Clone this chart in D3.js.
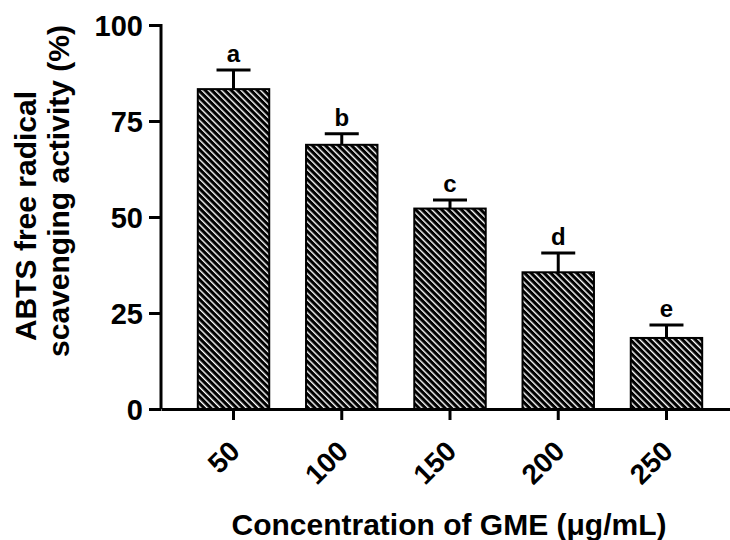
<!DOCTYPE html>
<html>
<head>
<meta charset="utf-8">
<script src="https://cdn.jsdelivr.net/npm/d3@7/dist/d3.min.js"></script>
<style>
  body { margin: 0; background: #fff; }
  text { font-family: "Liberation Sans", Arial, sans-serif; font-weight: bold; fill: #000; }
</style>
</head>
<body>
<svg id="chart" width="730" height="540"></svg>
<script>
var concentrations = ["50", "100", "150", "200", "250"];
var activity = [83.3, 68.8, 52.2, 35.6, 18.5];
var sd = [5.0, 2.9, 2.2, 5.0, 3.4];
var groupLetters = ["a", "b", "c", "d", "e"];
var yTicks = [0, 25, 50, 75, 100];

var svg = d3.select("#chart");

var x = d3.scaleBand()
    .domain(concentrations)
    .range([161, 739])
    .paddingInner(0.34)
    .paddingOuter(0.34);

var y = d3.scaleLinear()
    .domain([0, 100])
    .range([409, 25]);

// diagonal hatch
var defs = svg.append("defs");
var pat = defs.append("pattern")
    .attr("id", "hatch")
    .attr("patternUnits", "userSpaceOnUse")
    .attr("width", 4.6)
    .attr("height", 10)
    .attr("patternTransform", "rotate(-45)");
pat.append("rect")
    .attr("width", 4.6).attr("height", 10)
    .attr("fill", "#000");
pat.append("rect")
    .attr("x", 0).attr("width", 1.4).attr("height", 10)
    .attr("fill", "#fff");

var data = concentrations.map(function (c, i) {
    return { c: c, v: activity[i], e: sd[i], l: groupLetters[i] };
});

// error bars (drawn first so bar covers the stem bottom)
var eb = svg.append("g");
eb.selectAll("line.stem")
    .data(data).enter().append("line")
    .attr("x1", function (d) { return x(d.c) + x.bandwidth() / 2; })
    .attr("x2", function (d) { return x(d.c) + x.bandwidth() / 2; })
    .attr("y1", function (d) { return y(d.v); })
    .attr("y2", function (d) { return y(d.v + d.e); })
    .attr("stroke", "#000").attr("stroke-width", 3);
eb.selectAll("line.cap")
    .data(data).enter().append("line")
    .attr("x1", function (d) { return x(d.c) + x.bandwidth() / 2 - 17; })
    .attr("x2", function (d) { return x(d.c) + x.bandwidth() / 2 + 17; })
    .attr("y1", function (d) { return y(d.v + d.e); })
    .attr("y2", function (d) { return y(d.v + d.e); })
    .attr("stroke", "#000").attr("stroke-width", 3);

svg.append("g")
    .selectAll("rect")
    .data(data).enter().append("rect")
    .attr("x", function (d) { return x(d.c); })
    .attr("y", function (d) { return y(d.v); })
    .attr("width", x.bandwidth())
    .attr("height", function (d) { return y(0) - y(d.v); })
    .attr("fill", "url(#hatch)")
    .attr("stroke", "#000")
    .attr("stroke-width", 2);

// significance letters
svg.append("g")
    .selectAll("text")
    .data(data).enter().append("text")
    .attr("x", function (d) { return x(d.c) + x.bandwidth() / 2; })
    .attr("y", function (d) { return y(d.v + d.e) - 8; })
    .attr("text-anchor", "middle")
    .style("font-size", "24px")
    .text(function (d) { return d.l; });

// y axis
var yAxis = svg.append("g")
    .attr("transform", "translate(161,0)")
    .call(d3.axisLeft(y).tickValues(yTicks).tickSize(12).tickPadding(6));
yAxis.select(".domain").attr("stroke-width", 3).attr("d", "M-12,25.5H0V409");
yAxis.selectAll(".tick line").attr("stroke-width", 3);
yAxis.selectAll(".tick text").style("font-size", "29px").attr("dy", "0.36em");

// x axis
var xAxis = svg.append("g")
    .attr("transform", "translate(0,409)")
    .call(d3.axisBottom(x).tickSize(11).tickSizeOuter(0));
xAxis.select(".domain").attr("stroke-width", 3);
xAxis.selectAll(".tick line").attr("stroke-width", 3);
xAxis.selectAll(".tick text")
    .style("font-size", "28px")
    .attr("text-anchor", "end")
    .attr("dy", null)
    .attr("y", 0)
    .attr("transform", "translate(8,44) rotate(-45)");

// axis titles
svg.append("text")
    .attr("transform", "translate(36,216) rotate(-90)")
    .attr("text-anchor", "middle")
    .style("font-size", "30px")
    .text("ABTS free radical");
svg.append("text")
    .attr("transform", "translate(69,191) rotate(-90)")
    .attr("text-anchor", "middle")
    .style("font-size", "30px")
    .text("scavenging activity (%)");

svg.append("text")
    .attr("x", 449)
    .attr("y", 535)
    .attr("text-anchor", "middle")
    .style("font-size", "30px")
    .text("Concentration of GME (\u03bcg/mL)");
</script>
</body>
</html>
